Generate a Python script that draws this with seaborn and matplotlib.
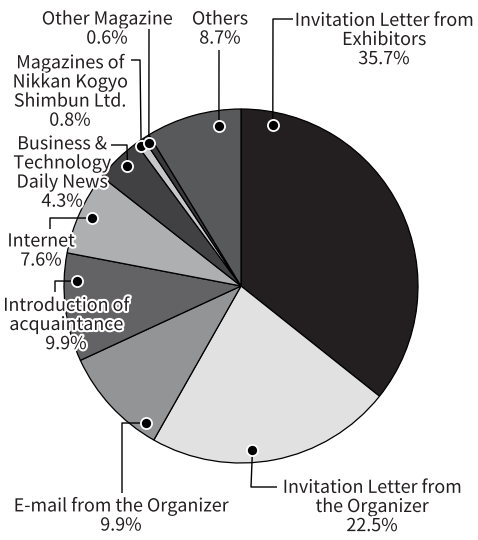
import numpy as np
import matplotlib.pyplot as plt
import matplotlib.patheffects as pe
import seaborn as sns

# %% Data (percent of visitors, clockwise from 12 o'clock)

labels = ['Invitation Letter from\nExhibitors',
          'Invitation Letter from\nthe Organizer',
          'E-mail from the Organizer',
          'Introduction of\nacquaintance',
          'Internet',
          'Business &\nTechnology\nDaily News',
          'Magazines of\nNikkan Kogyo\nShimbun Ltd.',
          'Other Magazine',
          'Others']
shares = [35.7, 22.5, 9.9, 9.9, 7.6, 4.3, 0.8, 0.6, 8.7]
colors = ['#231f20', '#e1e1e2', '#939496', '#636365', '#aeafb1',
          '#414143', '#c6c6c8', '#3a3a3c', '#58595b']

# %% Layout (pixel coords, y from top)

W, H = 478, 540
cx, cy, R = 241, 286, 177
# where the dot sits inside each wedge: fraction along the wedge, radius
dot_frac = [0.087, 0.586, 0.15, 0.745, 0.5, 0.54, 0.3, 0.31, 0.75]
dot_rad = [164, 164, 167, 164, 164, 165, 172, 170, 162]
# leader line bends after the dot
bends = [[(273, 19), (293, 19)],
         [(251, 487), (277, 487)],
         [(122, 423), (122, 493)],
         [(55, 281), (55, 292)],
         [(50, 218), (50, 229)],
         [(127, 145), (111, 145)],
         [(140, 60), (131, 60)],
         [(149, 29)],
         [(219, 50)]]
text_xy = [(384, 40), (372, 507), (121, 516), (66, 325), (41, 251),
           (62, 173), (70, 92), (107, 29), (220, 29)]

# %% Plot

sns.set_style('white')
plt.rcParams['font.family'] = ['Noto Sans CJK JP', 'DejaVu Sans']

fig = plt.figure(figsize=(W / 100, H / 100), dpi=100)
ax = fig.add_axes([0, 0, 1, 1])
ax.pie(shares, colors=colors, startangle=90, counterclock=False,
       center=(cx, H - cy), radius=R,
       wedgeprops=dict(edgecolor='black', linewidth=0.9))
ax.set_xlim(0, W)
ax.set_ylim(0, H)
ax.set_aspect('equal')
ax.axis('off')

halo = [pe.withStroke(linewidth=3, foreground='white')]
start = 90.0
for i, s in enumerate(shares):
    span = 3.6 * s
    ang = np.radians(start - dot_frac[i] * span)
    start -= span
    dx = cx + dot_rad[i] * np.cos(ang)
    dy = H - cy + dot_rad[i] * np.sin(ang)
    xs = [dx] + [p[0] for p in bends[i]]
    ys = [dy] + [H - p[1] for p in bends[i]]
    ax.plot(xs, ys, color='black', lw=1.0, solid_capstyle='butt', zorder=3)
    ax.plot(dx, dy, 'o', ms=8, mfc='black', mec='white', mew=1.3, zorder=4)
    tx, ty = text_xy[i]
    ax.text(tx, H - ty, f'{labels[i]}\n{s}%', ha='center', va='center',
            fontsize=12.9, linespacing=1.08, color='#231f20',
            path_effects=halo, zorder=5)

fig.savefig('out.png', dpi=100)
